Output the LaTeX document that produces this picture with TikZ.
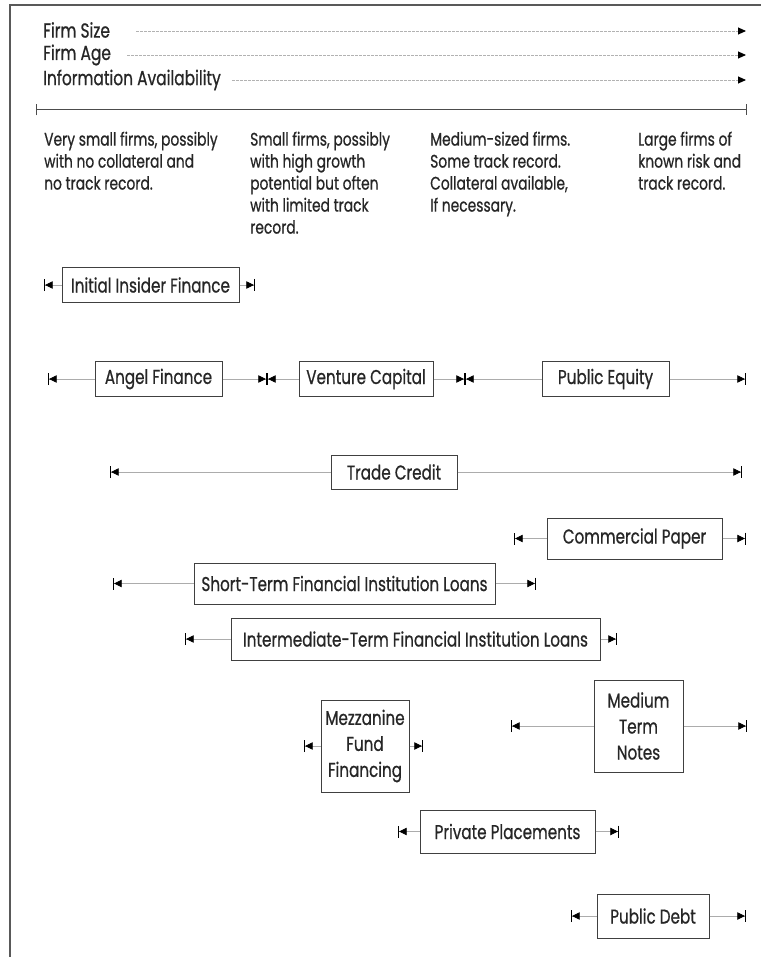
\documentclass[tikz,border=0pt]{standalone}
\usepackage{fontspec}
\setmainfont{Poppins}[FakeStretch=0.76,FakeBold=0.7]
\usetikzlibrary{arrows.meta}
\tikzset{
  hdr/.style={inner sep=0pt, anchor=west, text=black!85, font=\fontsize{20.3}{24}\selectfont},
  desc/.style={inner sep=0pt, anchor=north west, align=left, text=black!85, font=\fontsize{18.2}{22}\selectfont},
  box/.style={draw=black!75, line width=1pt, inner sep=0pt, align=center, text=black!85, font=\fontsize{20}{26}\selectfont},
  conn/.style={draw=gray!65, line width=0.7pt},
  hline/.style={draw=gray!60, line width=0.9pt, dash pattern=on 3pt off 1pt, -{Triangle[length=8pt,width=7pt,color=black]}},
  axisline/.style={draw=black!70, line width=1pt, {Bar[width=11pt,line width=1.2pt]}-{Bar[width=11pt,line width=1.2pt]}},
  lend/.style={arrows={{Bar[width=12pt,line width=1.2pt,sep=0pt,color=black]Triangle[length=7.5pt,width=7.5pt,sep=0pt,color=black]}-}},
  rend/.style={arrows={-{Triangle[length=7.5pt,width=7.5pt,sep=0pt,color=black]Bar[width=12pt,line width=1.2pt,sep=0pt,color=black]}}}
}
\begin{document}
\begin{tikzpicture}[x=1pt,y=-1pt]
\useasboundingbox (0,0) rectangle (761,957);
% frame
\coordinate (fb) at (10,957);
\coordinate (fc) at (10,5);
\coordinate (fr) at (761,5);
\draw[black!65, line width=1.5pt] (fb) -- (fc) -- (fr);

% header
\node[hdr] (fs) at (43,30) {Firm Size};
\node[hdr] (fa) at (43,55) {Firm Age};
\node[hdr] (ia) at (43,80) {Information Availability};
\coordinate (xend) at (746,0);
\draw[hline] ([xshift=26pt,yshift=-1pt]fs.east) -- ([yshift=-1pt]fs.east -| xend);
\draw[hline] ([xshift=16pt]fa.east) -- (fa.east -| xend);
\draw[hline] ([xshift=11pt]ia.east) -- (ia.east -| xend);

% axis
\coordinate (axL) at (36,110);
\coordinate (axR) at (747,110);
\draw[axisline] (axL) -- (axR);

% descriptions
\node[desc] (d1) at (44,131.5) {Very small firms, possibly\\with no collateral and\\no track record.};
\node[desc] (d2) at (250,131.5) {Small firms, possibly\\with high growth\\potential but often\\with limited track\\record.};
\node[desc] (d3) at (430,131.5) {Medium-sized firms.\\Some track record.\\Collateral available,\\If necessary.};
\node[desc] (d4) at (638,131.5) {Large firms of\\known risk and\\track record.};

% boxes
\node[box, minimum width=177pt, minimum height=34pt] (ins) at (150.5,285) {Initial Insider Finance};
\node[box, minimum width=127pt, minimum height=35pt] (ang) at (158.5,379) {Angel Finance};
\node[box, minimum width=134pt, minimum height=35pt] (vc) at (366,379) {Venture Capital};
\node[box, minimum width=127pt, minimum height=35pt] (pe) at (605.5,379) {Public Equity};
\node[box, minimum width=126pt, minimum height=34pt] (tc) at (394,472) {Trade Credit};
\node[box, minimum width=175pt, minimum height=41pt] (cp) at (634.5,538.5) {Commercial Paper};
\node[box, minimum width=301pt, minimum height=41pt] (st) at (344.5,583.5) {Short-Term Financial Institution Loans};
\node[box, minimum width=369pt, minimum height=42pt] (it) at (415.5,639) {Intermediate-Term Financial Institution Loans};
\node[box, minimum width=88pt, minimum height=92pt] (mz) at (365,746) {Mezzanine\\Fund\\Financing};
\node[box, minimum width=89pt, minimum height=92pt] (mtn) at (638.5,726) {Medium\\Term\\Notes};
\node[box, minimum width=175pt, minimum height=43pt] (pp) at (507.5,831.5) {Private Placements};
\node[box, minimum width=112pt, minimum height=44pt] (pd) at (653,916) {Public Debt};

% range end points
\coordinate (insL) at (44,285);   \coordinate (insR) at (255,285);
\coordinate (angL) at (48,379);   \coordinate (j1) at (267,379);
\coordinate (j2) at (465,379);    \coordinate (peR) at (746,379);
\coordinate (tcL) at (110,472);   \coordinate (tcR) at (742,472);
\coordinate (cpL) at (514,538.5); \coordinate (cpR) at (746,538.5);
\coordinate (stL) at (113,583.5); \coordinate (stR) at (536,583.5);
\coordinate (itL) at (185,639);   \coordinate (itR) at (617,639);
\coordinate (mzL) at (304,746);   \coordinate (mzR) at (423,746);
\coordinate (mtnL) at (511,726);  \coordinate (mtnR) at (747,726);
\coordinate (ppL) at (398,831.5); \coordinate (ppR) at (619,831.5);
\coordinate (pdL) at (571,916);   \coordinate (pdR) at (746,916);

% ranges
\draw[conn, lend] (insL) -- (ins.west);  \draw[conn, rend] (ins.east) -- (insR);
\draw[conn, lend] (angL) -- (ang.west);  \draw[conn, rend] (ang.east) -- (j1);
\draw[conn, lend] (j1) -- (vc.west);     \draw[conn, rend] (vc.east) -- (j2);
\draw[conn, lend] (j2) -- (pe.west);     \draw[conn, rend] (pe.east) -- (peR);
\draw[conn, lend] (tcL) -- (tc.west);    \draw[conn, rend] (tc.east) -- (tcR);
\draw[conn, lend] (cpL) -- (cp.west);    \draw[conn, rend] (cp.east) -- (cpR);
\draw[conn, lend] (stL) -- (st.west);    \draw[conn, rend] (st.east) -- (stR);
\draw[conn, lend] (itL) -- (it.west);    \draw[conn, rend] (it.east) -- (itR);
\draw[conn, lend] (mzL) -- (mz.west);    \draw[conn, rend] (mz.east) -- (mzR);
\draw[conn, lend] (mtnL) -- (mtn.west);  \draw[conn, rend] (mtn.east) -- (mtnR);
\draw[conn, lend] (ppL) -- (pp.west);    \draw[conn, rend] (pp.east) -- (ppR);
\draw[conn, lend] (pdL) -- (pd.west);    \draw[conn, rend] (pd.east) -- (pdR);
\end{tikzpicture}
\end{document}
